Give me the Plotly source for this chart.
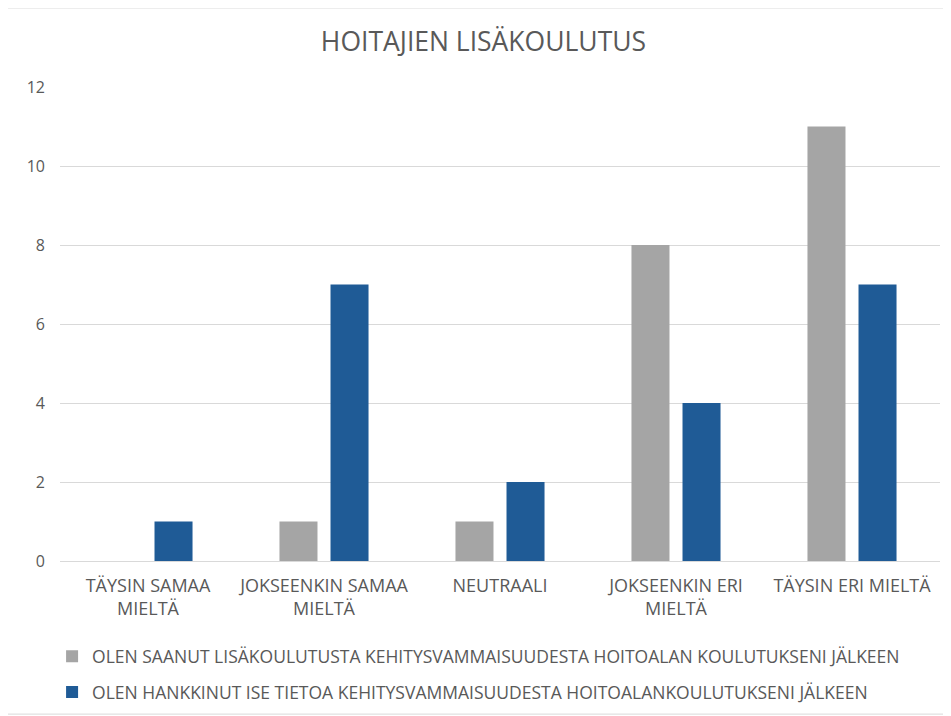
import plotly.graph_objects as go

categories = ["TÄYSIN SAMAA<br>MIELTÄ", "JOKSEENKIN SAMAA<br>MIELTÄ", "NEUTRAALI",
              "JOKSEENKIN ERI<br>MIELTÄ", "TÄYSIN ERI MIELTÄ"]
series1_name = "OLEN SAANUT LISÄKOULUTUSTA KEHITYSVAMMAISUUDESTA HOITOALAN KOULUTUKSENI JÄLKEEN"
series2_name = "OLEN HANKKINUT ISE TIETOA KEHITYSVAMMAISUUDESTA HOITOALANKOULUTUKSENI JÄLKEEN"
series1 = [0, 1, 1, 8, 11]
series2 = [1, 7, 2, 4, 7]
y_ticks = [0, 2, 4, 6, 8, 10, 12]

FONT = "Open Sans, Liberation Sans, sans-serif"
TXT = "#595959"

fig = go.Figure()
fig.add_trace(go.Bar(x=categories, y=series1, name=series1_name,
                     marker=dict(color="#A5A5A5", line=dict(width=0)),
                     legendgroup="a"))
fig.add_trace(go.Bar(x=categories, y=series2, name=series2_name,
                     marker=dict(color="#1F5B96", line=dict(width=0)),
                     legendgroup="b"))

fig.update_layout(
    width=951, height=716,
    margin=dict(l=52, r=19, t=79, b=163),
    paper_bgcolor="white", plot_bgcolor="white",
    barmode="group", bargap=0.42, bargroupgap=0.255,
    title=dict(text="HOITAJIEN LISÄKOULUTUS", x=0.5, xanchor="center",
               y=0.953, yanchor="middle",
               font=dict(family=FONT, size=26.5, color=TXT)),
    font=dict(family=FONT, color=TXT),
    legend=dict(orientation="v", x=-0.009, xanchor="left", y=-0.163, yanchor="top",
                font=dict(family=FONT, size=17.5, color=TXT),
                tracegroupgap=10, itemclick=False),
    xaxis=dict(showgrid=False, showline=True, linecolor="#D9D9D9", linewidth=1,
               ticks="", tickfont=dict(family=FONT, size=18, color=TXT),
               ticklabelstandoff=8),
    yaxis=dict(range=[0, 12], tickvals=y_ticks, showgrid=True, gridcolor="#D9D9D9",
               gridwidth=1, zeroline=False, showline=False, ticks="",
               tickfont=dict(family=FONT, size=16, color=TXT),
               ticklabelstandoff=14),
    shapes=[dict(type="rect", xref="paper", yref="paper",
                 x0=-0.0625, x1=1.007, y0=-0.323, y1=1.1667,
                 line=dict(color="#D9D9D9", width=1), fillcolor="rgba(0,0,0,0)",
                 layer="below")],
)

fig.write_html("out.html")
